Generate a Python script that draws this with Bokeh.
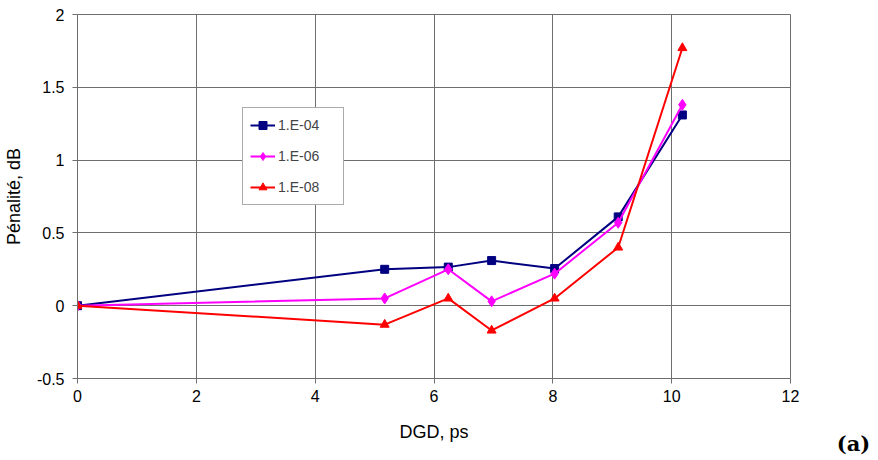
from bokeh.plotting import figure
from bokeh.layouts import row
from bokeh.models import Range1d, FixedTicker, Legend, LegendItem, LinearAxis
from bokeh.embed import file_html
from bokeh.resources import INLINE

dgd = [0, 5.17, 6.24, 6.97, 8.03, 9.1, 10.18]
ber_1e04 = [0, 0.25, 0.265, 0.31, 0.255, 0.61, 1.31]
ber_1e06 = [0, 0.05, 0.25, 0.03, 0.22, 0.57, 1.38]
ber_1e08 = [0, -0.13, 0.05, -0.17, 0.05, 0.40, 1.77]
series_names = ["1.E-04", "1.E-06", "1.E-08"]
x_ticks = [0, 2, 4, 6, 8, 10, 12]
y_ticks = [-0.5, 0, 0.5, 1, 1.5, 2]
y_tick_labels = ["-0.5", "0", "0.5", "1", "1.5", "2"]
panel_tag = "(a)"

FONT = "Liberation Sans"
GRID = "#6e6e6e"

p = figure(width=830, height=460, output_backend="svg", toolbar_location=None,
           x_range=Range1d(0, 12), y_range=Range1d(-0.5, 2),
           min_border_left=76, min_border_right=40, min_border_top=14, min_border_bottom=82)
p.background_fill_color = "white"
p.border_fill_color = "white"
p.outline_line_color = GRID
p.outline_line_width = 1

for ax in (p.xaxis[0], p.yaxis[0]):
    ax.axis_line_color = GRID
    ax.major_tick_line_color = GRID
    ax.major_tick_out = 5
    ax.major_tick_in = 0
    ax.minor_tick_line_color = None
    ax.major_label_text_font = FONT
    ax.major_label_text_font_size = "16px"
    ax.major_label_text_color = "black"
    ax.axis_label_text_font = FONT
    ax.axis_label_text_font_size = "18px"
    ax.axis_label_text_font_style = "normal"
    ax.axis_label_text_color = "black"

p.xaxis.ticker = FixedTicker(ticks=x_ticks)
p.yaxis.ticker = FixedTicker(ticks=y_ticks)
p.yaxis.major_label_overrides = {t: l for t, l in zip(y_ticks, y_tick_labels)}
p.xaxis.axis_label = "DGD, ps"
p.yaxis.axis_label = "Pénalité, dB"
p.xaxis.major_label_standoff = 6
p.yaxis.major_label_standoff = 8
p.xaxis.axis_label_standoff = 17
p.yaxis.axis_label_standoff = 10

p.xgrid.ticker = FixedTicker(ticks=x_ticks)
p.ygrid.ticker = FixedTicker(ticks=y_ticks)
p.xgrid.grid_line_color = GRID
p.ygrid.grid_line_color = GRID
p.xgrid.grid_line_width = 1
p.ygrid.grid_line_width = 1

l1 = p.line(dgd, ber_1e04, color="#000080", line_width=2)
m1 = p.scatter(dgd, ber_1e04, marker="square", size=8, color="#000080")
l2 = p.line(dgd, ber_1e06, color="#FF00FF", line_width=2)
m2 = p.scatter(dgd, ber_1e06, marker="diamond", size=11, color="#FF00FF")
l3 = p.line(dgd, ber_1e08, color="#FF0000", line_width=2)
m3 = p.scatter(dgd, ber_1e08, marker="triangle", size=9, color="#FF0000")

legend = Legend(items=[
    LegendItem(label=series_names[0], renderers=[l1, m1]),
    LegendItem(label=series_names[1], renderers=[l2, m2]),
    LegendItem(label=series_names[2], renderers=[l3, m3]),
], location=(165, 173))
legend.label_text_font = FONT
legend.label_text_font_size = "14px"
legend.label_height = 20
legend.glyph_height = 20
legend.glyph_width = 25
legend.label_width = 58
legend.spacing = 11
legend.padding = 7
legend.margin = 0
legend.label_standoff = 3
legend.border_line_color = "#555555"
legend.border_line_width = 1
legend.background_fill_color = "white"
legend.background_fill_alpha = 1
p.add_layout(legend, "center")

# narrow side figure whose bottom axis label carries the "(a)" tag
p2 = figure(width=46, height=460, output_backend="svg", toolbar_location=None,
            x_range=Range1d(0, 1), y_range=Range1d(0, 1),
            x_axis_type=None, y_axis_type=None,
            min_border_left=0, min_border_right=0, min_border_top=14, min_border_bottom=82)
p2.outline_line_color = None
p2.background_fill_color = "white"
p2.border_fill_color = "white"
tag_axis = LinearAxis(ticker=FixedTicker(ticks=[]), axis_line_color=None,
                      major_tick_line_color=None, minor_tick_line_color=None,
                      axis_label=panel_tag, axis_label_text_font="DejaVu Serif",
                      axis_label_text_font_style="bold", axis_label_text_font_size="21px",
                      axis_label_text_color="black", axis_label_standoff=52)
p2.add_layout(tag_axis, "below")

layout = row(p, p2)
open("out.html", "w").write(file_html(layout, INLINE))
